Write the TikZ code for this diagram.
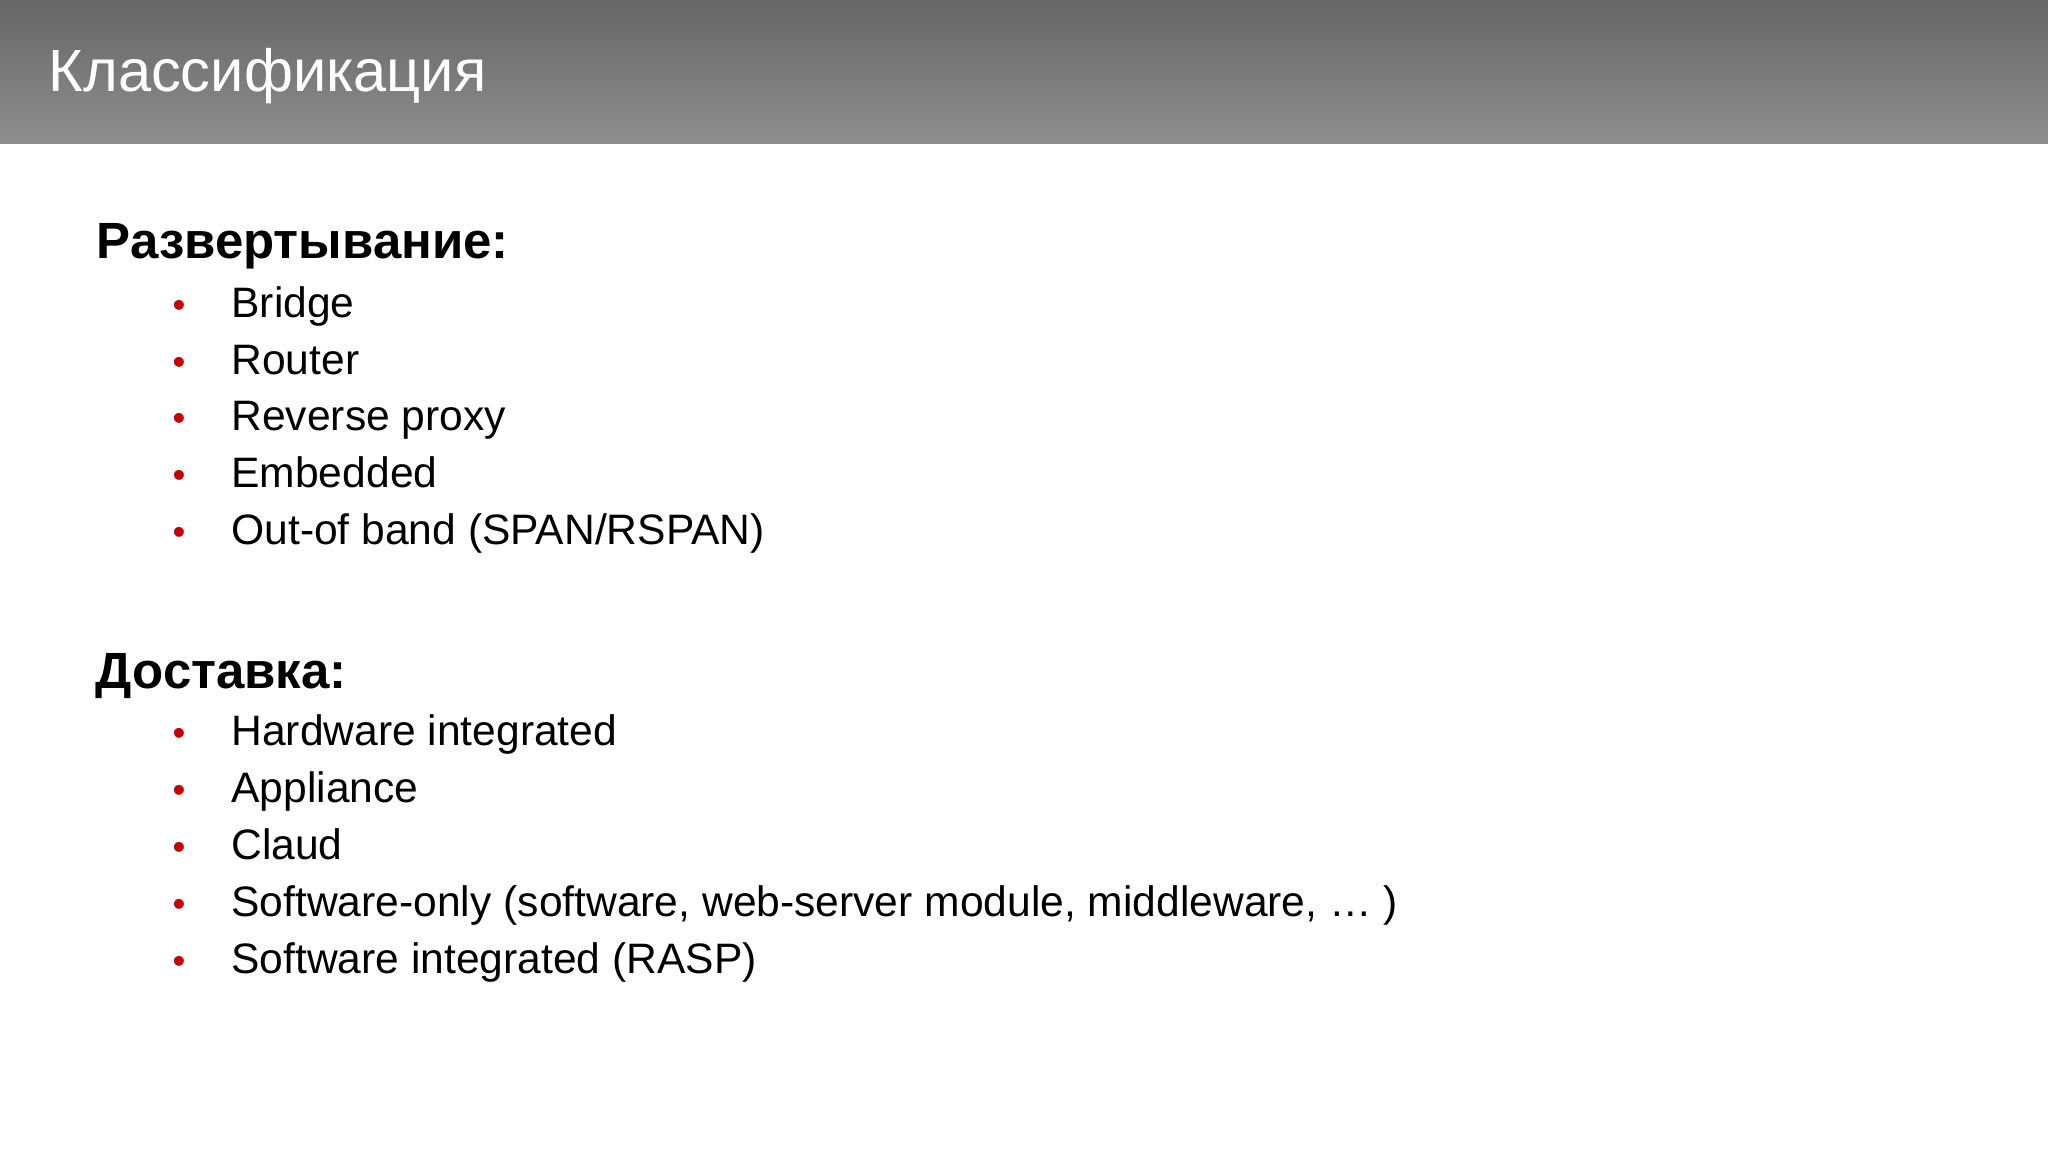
\documentclass[tikz,border=0pt]{standalone}
\usepackage{fontspec}
\setmainfont{Liberation Sans}
\definecolor{bulred}{HTML}{C00000}
\definecolor{hdtop}{HTML}{666666}
\definecolor{hdbot}{HTML}{8E8E8E}
\begin{document}
\begin{tikzpicture}[x=1pt,y=-1pt,
  txt/.style={anchor=base west,inner sep=0pt,font=\fontsize{32.6}{36}\selectfont},
  head/.style={anchor=base west,inner sep=0pt,font=\fontsize{39}{44}\selectfont\bfseries},
  bul/.style={anchor=base west,inner sep=0pt,text=bulred,font=\fontsize{28}{32}\selectfont}]
\useasboundingbox (0,0) rectangle (1568,882);
\fill[white] (0,0) rectangle (1568,882);
\shade[top color=hdtop,bottom color=hdbot] (0,0) rectangle (1568,110);
\node[anchor=base west,inner sep=0pt,text=white,font=\fontsize{45.6}{50}\selectfont] (title) at (37,70) {Классификация};
\node[head] (h1) at (74,198) {Развертывание:};
\foreach \t [count=\i] in {Bridge,Router,Reverse proxy,Embedded,Out-of band (SPAN/RSPAN)}{
  \node[bul] (ba\i) at (132,{200+43.3*\i}) {•};
  \node[txt] (ta\i) at (177,{200+43.3*\i}) {\t};
}
\node[head] (h2) at (73,527) {Доставка:};
\foreach \t [count=\i] in {Hardware integrated,Appliance,Claud,{Software-only (software, web-server module, middleware, … )},Software integrated (RASP)}{
  \node[bul] (bb\i) at (132,{527+43.6*\i}) {•};
  \node[txt] (tb\i) at (177,{527+43.6*\i}) {\t};
}
\end{tikzpicture}
\end{document}
